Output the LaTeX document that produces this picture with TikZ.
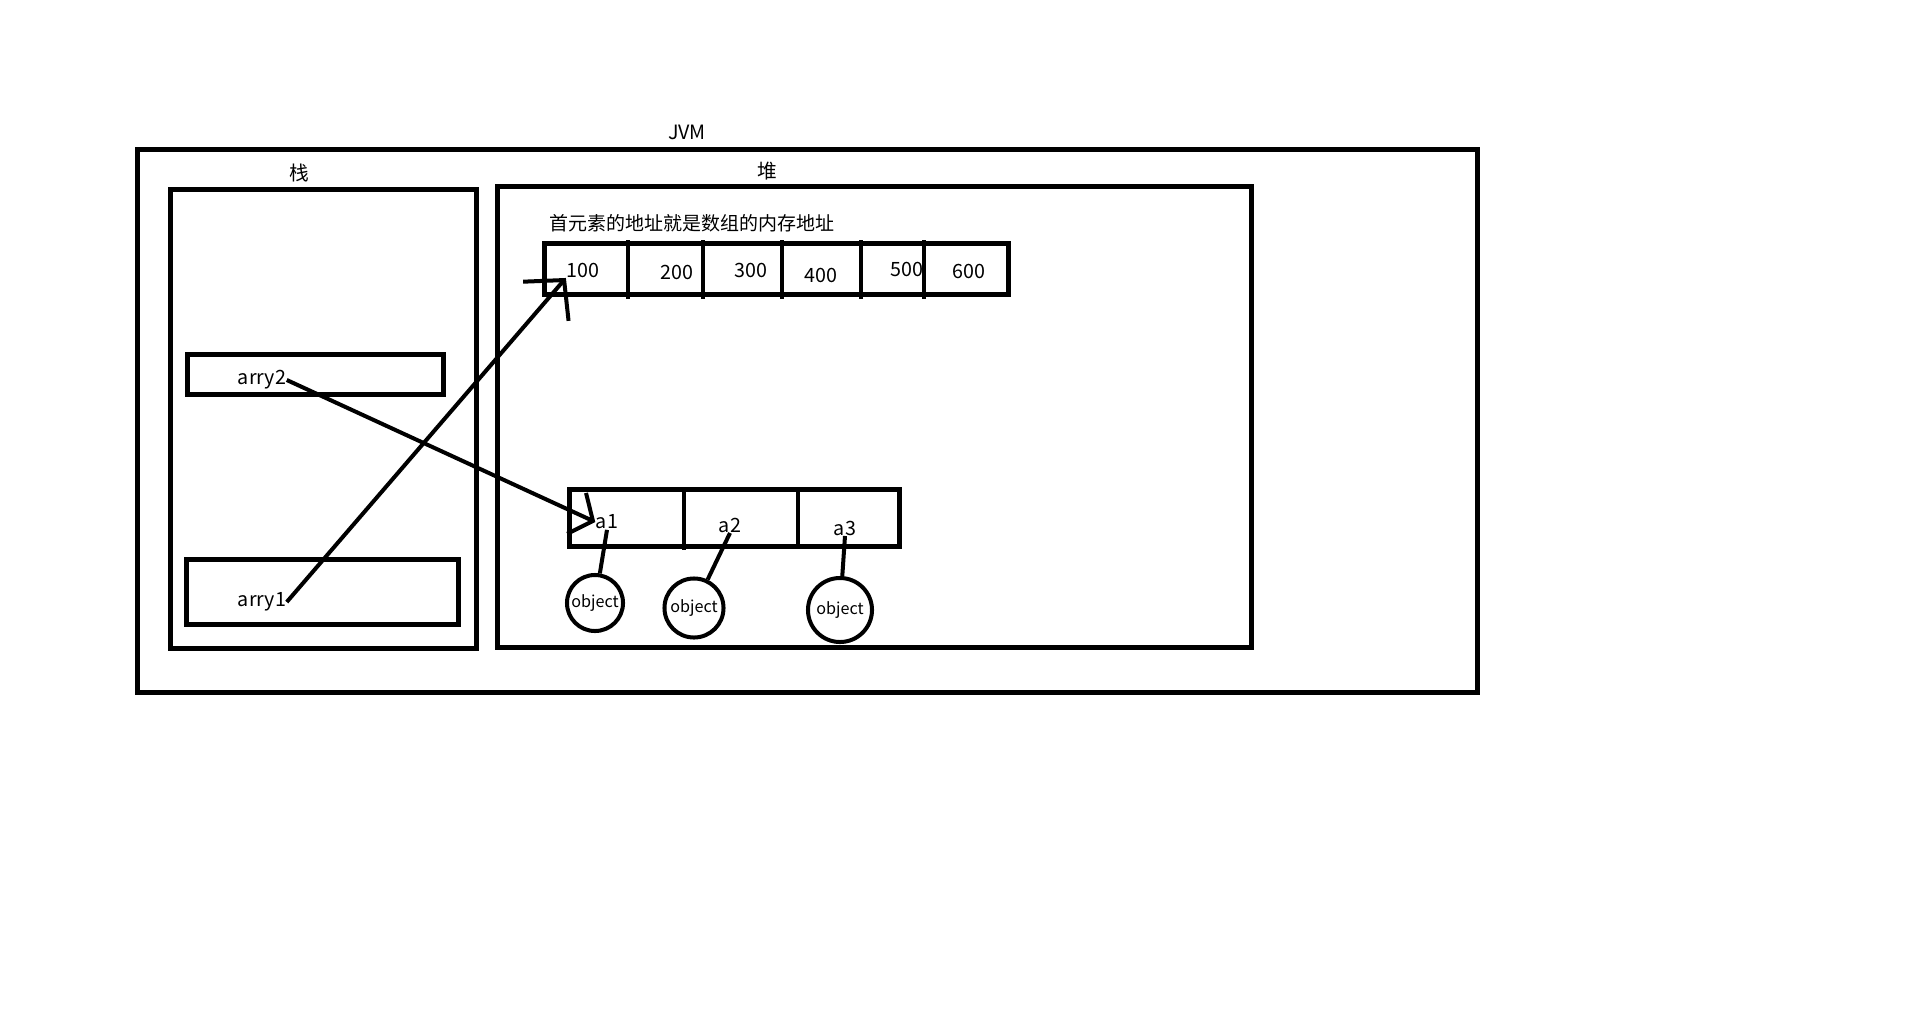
\documentclass[tikz,border=0pt]{standalone}
\usepackage{fontspec}
\setmainfont{Noto Sans CJK SC}
\usetikzlibrary{arrows.meta, positioning}

\tikzset{
  box/.style={draw, line width=1.42pt, anchor=north west, inner sep=0pt, outer sep=0pt},
  txt/.style={inner sep=0pt, font=\fontsize{5.6pt}{6.7pt}\selectfont},
  obj/.style={draw, circle, line width=1.14pt, inner sep=0pt, font=\fontsize{4.6pt}{5.5pt}\selectfont},
  ref/.style={line width=1.14pt},
  cell/.style={line width=1.14pt},
}

\begin{document}
\begin{tikzpicture}[x=0.01cm, y=-0.01cm]
\useasboundingbox (0,0) rectangle (1920,1027);

% JVM with stack and heap
\node[box, minimum width=13.39cm, minimum height=5.43cm] (jvm) at (137.5,149.5) {};
\node[txt] (jvmlabel) at (687,132) {JVM};
\node[box, minimum width=3.06cm, minimum height=4.59cm] (stack) at (170.5,189.5) {};
\node[txt] (stacklabel) at (299,173) {栈};
\node[box, minimum width=7.54cm, minimum height=4.61cm] (heap) at (497.5,186.5) {};
\node[txt] (heaplabel) at (767,171) {堆};

% stack variables
\node[box, minimum width=2.56cm, minimum height=0.40cm] (arry2box) at (187.5,354.5) {};
\node[txt] (arry2) at (262,380) {arry2};
\node[box, minimum width=2.72cm, minimum height=0.65cm] (arry1box) at (186.5,559.5) {};
\node[txt] (arry1) at (262,602) {arry1};

% int array in the heap
\node[txt, anchor=west, font=\fontsize{5.4pt}{6.5pt}\selectfont] (note) at (549,223) {首元素的地址就是数组的内存地址};
\node[box, minimum width=4.645cm, minimum height=0.51cm] (addr) at (544,243.5) {};
\foreach \x in {627.8,702.5,782,861,924} {
  \draw[cell] (\x,240) -- (\x,299);
}
\node[txt] (v100) at (583,270) {100};
\node[txt] (v200) at (677,272) {200};
\node[txt] (v300) at (751,270) {300};
\node[txt] (v400) at (821,275) {400};
\node[txt] (v500) at (907,269) {500};
\node[txt] (v600) at (969,271) {600};

% object array in the heap
\node[box, minimum width=3.30cm, minimum height=0.57cm] (objarr) at (569.5,489.5) {};
\draw[cell] (684,489.5) -- (684,550);
\draw[cell] (798,489.5) -- (798,546.5);
\node[txt] (a1) at (607,522) {a1};
\node[txt] (a2) at (730,525) {a2};
\node[txt] (a3) at (845,528) {a3};

\node[obj, minimum size=0.56cm] (o1) at (595,603) {object};
\node[obj, minimum size=0.59cm] (o2) at (694,608) {object};
\node[obj, minimum size=0.64cm] (o3) at (840,610) {object};

% references
\draw[ref, -{Straight Barb[length=2.8mm, width=6mm]}] (arry1.east) -- (v100.south west);
\draw[ref, -{Straight Barb[length=1.8mm, width=4.5mm]}] (arry2.east) -- (a1.west);
\draw[ref] (a1.south) -- (o1);
\draw[ref] (a2.south) -- (o2);
\draw[ref] (a3.south) -- (o3);

\end{tikzpicture}
\end{document}
